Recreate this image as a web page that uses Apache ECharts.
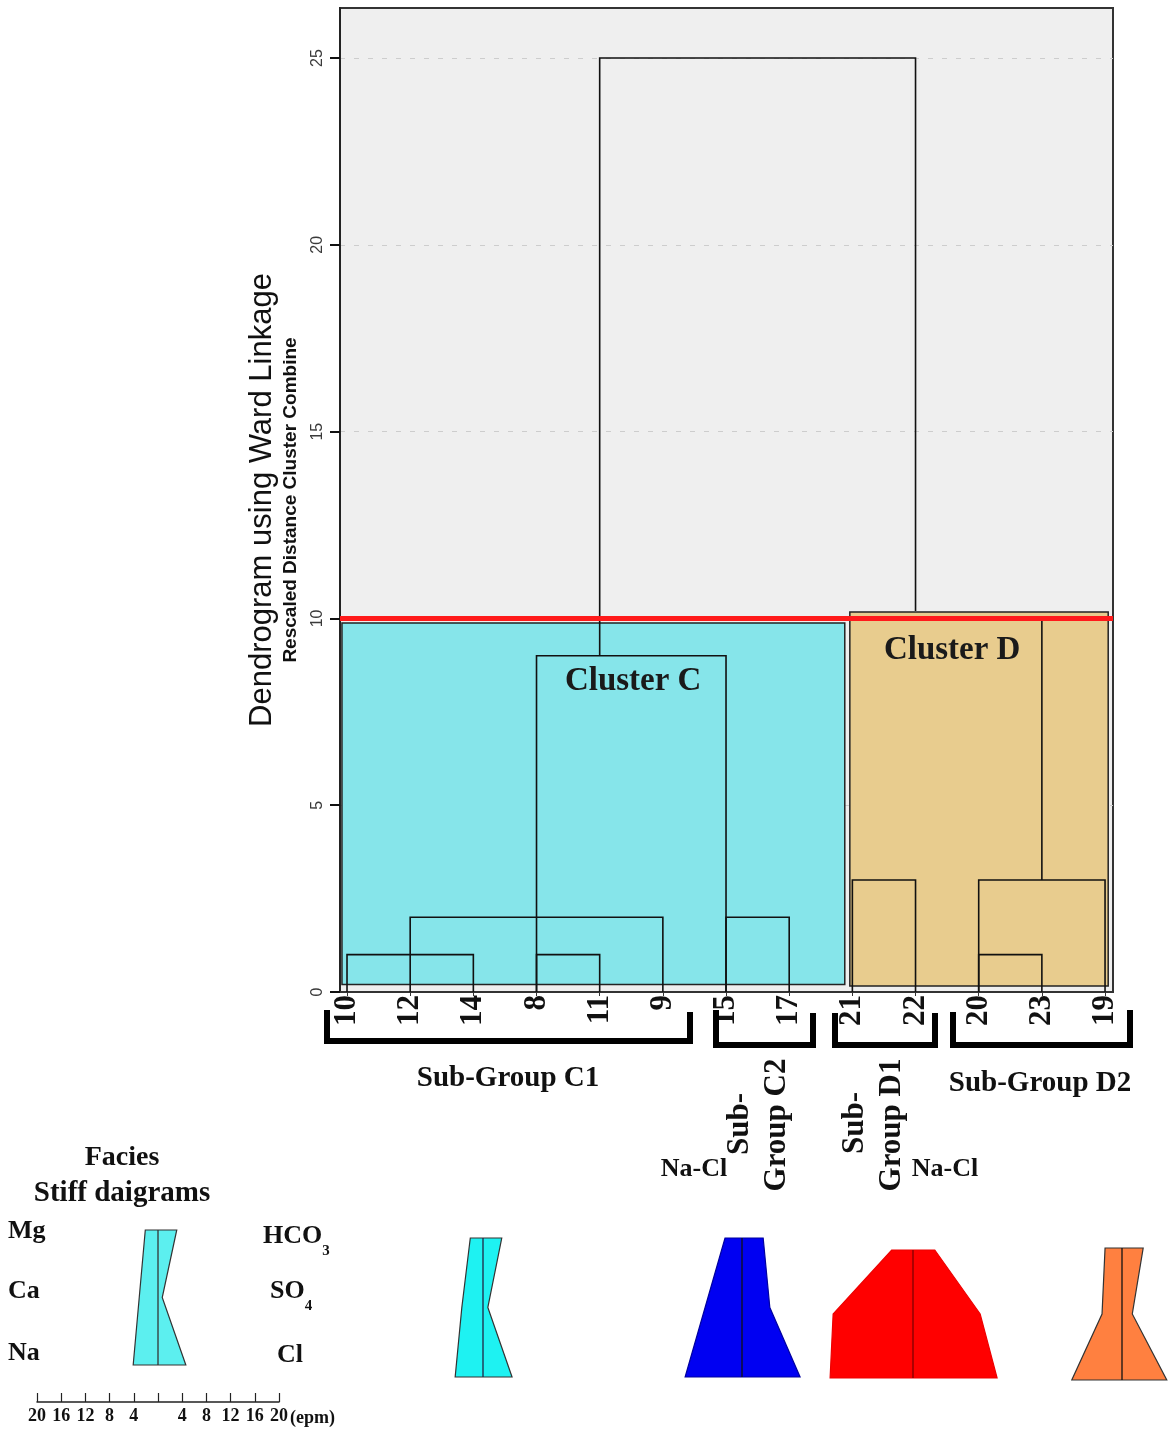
<!DOCTYPE html>
<html>
<head>
<meta charset="utf-8">
<script src="https://cdn.jsdelivr.net/npm/echarts@6/dist/echarts.min.js"></script>
<style>
  html, body { margin: 0; padding: 0; background: #ffffff; }
  #chart { width: 1168px; height: 1432px; }
</style>
</head>
<body>
<div id="chart"></div>
<script>
// Leaf order along the dendrogram axis (sample numbers)
const leaves = ['10', '12', '14', '8', '11', '9', '15', '17', '21', '22', '20', '23', '19'];

// Each link: [left anchor leaf, right anchor leaf, left leg start, right leg start, join height]
const links = [
  ['10', '14', 0, 0, 1],
  ['12', '9', 0, 0, 2],
  ['8', '11', 0, 0, 1],
  ['8', '15', 0, 0, 9],
  ['15', '17', 0, 0, 2],
  ['11', '22', 9, 10.2, 25],
  ['21', '22', 0, 0, 3],
  ['20', '19', 0, 0, 3],
  ['20', '23', 0, 0, 1],
  ['23', '23', 3, 3, 10]
];

// Phenon line used to cut the tree into clusters
const cutHeight = 10;

// Rescaled distance ticks
const distanceTicks = [0, 5, 10, 15, 20, 25];

// Stiff diagram ions (epm), rows top to bottom
const cations = ['Mg', 'Ca', 'Na'];
const anions = ['HCO3', 'SO4', 'Cl'];
const stiffLegendCations = [2.1, 3.1, 4.1];
const stiffLegendAnions = [3.1, 0.7, 4.6];
const stiffC1Cations = [2.1, 3.5, 4.6];
const stiffC1Anions = [3.1, 0.8, 4.8];
const stiffC2Cations = [2.8, 6.1, 9.4];
const stiffC2Anions = [3.5, 4.6, 9.6];
const stiffD1Cations = [3.5, 13.2, 13.7];
const stiffD1Anions = [3.6, 11.1, 13.9];
const stiffD2Cations = [2.8, 3.3, 8.3];
const stiffD2Anions = [3.5, 1.7, 7.4];

const SERIF = "'Liberation Serif', 'Times New Roman', serif";
const SANS = "'Liberation Sans', Arial, sans-serif";

const leafIndex = name => leaves.indexOf(name);

const chart = echarts.init(document.getElementById('chart'), null, { renderer: 'canvas' });

// polygon for one Stiff diagram: cations to the left, anions to the right
function stiffRenderer(fill, stroke, axisStroke) {
  return function (params, api) {
    const c = [api.value(0), api.value(1), api.value(2)];
    const a = [api.value(3), api.value(4), api.value(5)];
    const pts = [
      api.coord([-c[0], 0]), api.coord([-c[1], 1]), api.coord([-c[2], 2]),
      api.coord([a[2], 2]), api.coord([a[1], 1]), api.coord([a[0], 0])
    ];
    const top = api.coord([0, 0]);
    const bottom = api.coord([0, 2]);
    return {
      type: 'group',
      children: [
        { type: 'polygon', shape: { points: pts }, style: { fill: fill, stroke: stroke, lineWidth: 1.2 } },
        { type: 'line', shape: { x1: top[0], y1: top[1], x2: bottom[0], y2: bottom[1] },
          style: { stroke: axisStroke, lineWidth: 1.3 } }
      ]
    };
  };
}

// small diagram panels: centre x, top, height
const stiffPanels = [
  { cx: 158, top: 1230, h: 135 },
  { cx: 483, top: 1238, h: 139 },
  { cx: 742, top: 1238, h: 139 },
  { cx: 913, top: 1250, h: 128 },
  { cx: 1122, top: 1248, h: 132 }
];
const EPM_WIDTH = 242;

const grids = [
  { left: 340, top: 8, width: 773, height: 984, show: true, backgroundColor: '#efefef',
    borderColor: '#333', borderWidth: 2, outerBoundsMode: 'none', containLabel: false }
].concat(stiffPanels.map(p => ({
  left: p.cx - EPM_WIDTH / 2, top: p.top, width: EPM_WIDTH, height: p.h,
  show: false, outerBoundsMode: 'none', containLabel: false
})));

const xAxes = [{
  type: 'value', gridIndex: 0, min: -0.111, max: 12.126,
  axisLine: { show: true, onZero: false, lineStyle: { color: '#333', width: 2 } },
  axisTick: { show: true, customValues: leaves.map((_, i) => i), length: 4, lineStyle: { color: '#333', width: 1 } },
  axisLabel: {
    customValues: leaves.map((_, i) => i),
    formatter: v => leaves[Math.round(v)],
    rotate: 90, margin: 3,
    fontFamily: SERIF, fontWeight: 'bold', fontSize: 31, color: '#111'
  },
  splitLine: { show: false }
}].concat(stiffPanels.map((p, i) => ({
  type: 'value', gridIndex: i + 1, min: -20, max: 20, interval: 4,
  show: i === 0, position: 'bottom', offset: 37,
  axisLine: { show: true, onZero: false, lineStyle: { color: '#222', width: 1.5 } },
  axisTick: { show: true, inside: true, length: 9, lineStyle: { color: '#222', width: 1.2 } },
  axisLabel: {
    formatter: v => (v === 0 ? '' : String(Math.abs(v))),
    margin: 5, fontFamily: SERIF, fontWeight: 'bold', fontSize: 18, color: '#111'
  },
  splitLine: { show: false }
})));

const yAxes = [{
  type: 'value', gridIndex: 0, min: 0, max: 26.34, interval: 5,
  name: '{a|Dendrogram using Ward Linkage}\n{b|Rescaled Distance Cluster Combine}',
  nameLocation: 'middle', nameRotate: 90, nameGap: 36,
  nameTextStyle: {
    rich: {
      a: { fontFamily: SANS, fontSize: 31, color: '#111', lineHeight: 32 },
      b: { fontFamily: SANS, fontSize: 19, fontWeight: 'bold', color: '#111', lineHeight: 26 }
    }
  },
  axisLine: { show: true, onZero: false, lineStyle: { color: '#222', width: 2 } },
  axisTick: { show: true, customValues: distanceTicks, length: 10, lineStyle: { color: '#111', width: 2 } },
  axisLabel: {
    customValues: distanceTicks, rotate: 90, margin: 14,
    fontFamily: SANS, fontSize: 16, color: '#3a3a3a'
  },
  splitLine: { show: true, lineStyle: { type: [5, 9], color: '#cdcdcd', width: 1 } }
}].concat(stiffPanels.map((p, i) => ({
  type: 'value', gridIndex: i + 1, min: 0, max: 2, inverse: true, show: false
})));

// shaded cluster regions in axis units: [left, bottom, right, top], label anchor
const clusterRegions = [
  { box: [-0.08, 0.2, 7.88, 9.88], fill: '#86e5ea', label: 'Cluster C', at: [4.53, 8.32] },
  { box: [7.96, 0.16, 12.05, 10.17], fill: '#e8cc8e', label: 'Cluster D', at: [9.58, 9.15] }
];

const series = [
  {
    type: 'custom', name: 'clusters', xAxisIndex: 0, yAxisIndex: 0, z: 1, clip: false, silent: true,
    data: clusterRegions.map(r => r.box.concat(r.at)),
    renderItem: function (params, api) {
      const r = clusterRegions[params.dataIndex];
      const p0 = api.coord([api.value(0), api.value(3)]);
      const p1 = api.coord([api.value(2), api.value(1)]);
      const t = api.coord([api.value(4), api.value(5)]);
      return {
        type: 'group',
        children: [
          { type: 'rect', shape: { x: p0[0], y: p0[1], width: p1[0] - p0[0], height: p1[1] - p0[1] },
            style: { fill: r.fill, stroke: '#222', lineWidth: 1.5 } },
          { type: 'text', x: t[0], y: t[1], z2: 5,
            style: { text: r.label, font: 'bold 33px ' + SERIF, fill: '#1a1a1a',
              align: 'center', verticalAlign: 'middle', textAlign: 'center', textVerticalAlign: 'middle' } }
        ]
      };
    }
  },
  {
    type: 'custom', name: 'dendrogram', xAxisIndex: 0, yAxisIndex: 0, z: 2, clip: false, silent: true,
    data: links.map(l => [leafIndex(l[0]), l[2], leafIndex(l[1]), l[3], l[4]]),
    encode: { x: [0, 2], y: [1, 3, 4] },
    renderItem: function (params, api) {
      const xl = api.value(0), yl = api.value(1), xr = api.value(2), yr = api.value(3), h = api.value(4);
      const pts = [api.coord([xl, yl]), api.coord([xl, h]), api.coord([xr, h]), api.coord([xr, yr])];
      return { type: 'polyline', shape: { points: pts }, style: { stroke: '#111', lineWidth: 1.6, fill: null } };
    }
  },
  {
    type: 'line', name: 'cut', xAxisIndex: 0, yAxisIndex: 0, z: 5, data: [], silent: true,
    markLine: {
      silent: true, symbol: ['none', 'none'], label: { show: false },
      lineStyle: { color: '#ff1a1a', width: 5, type: 'solid', opacity: 1 },
      data: [{ yAxis: cutHeight }]
    }
  }
];

const stiffSets = [
  { cat: stiffLegendCations, an: stiffLegendAnions, fill: '#5cefef', stroke: '#333', axis: '#333' },
  { cat: stiffC1Cations, an: stiffC1Anions, fill: '#1ef2f2', stroke: '#333', axis: '#224' },
  { cat: stiffC2Cations, an: stiffC2Anions, fill: '#0000f2', stroke: '#0000a0', axis: '#111' },
  { cat: stiffD1Cations, an: stiffD1Anions, fill: '#ff0000', stroke: '#ee0000', axis: '#800000' },
  { cat: stiffD2Cations, an: stiffD2Anions, fill: '#ff8040', stroke: '#333', axis: '#111' }
];
stiffSets.forEach((s, i) => {
  series.push({
    type: 'custom', name: 'stiff' + i, xAxisIndex: i + 1, yAxisIndex: i + 1, clip: false, silent: true, z: 2,
    data: [s.cat.concat(s.an)],
    renderItem: stiffRenderer(s.fill, s.stroke, s.axis)
  });
});

function txt(text, x, y, size, opts) {
  opts = opts || {};
  return {
    type: 'text', x: x, y: y, rotation: opts.rotation || 0, z: 10,
    style: {
      text: text, font: 'bold ' + size + 'px ' + SERIF, fill: '#111',
      align: opts.align || 'center', verticalAlign: 'middle',
      textAlign: opts.align || 'center', textVerticalAlign: 'middle',
      rich: opts.rich
    }
  };
}
function bracket(points) {
  return { type: 'polyline', z: 10, shape: { points: points },
    style: { stroke: '#000', lineWidth: 6, fill: null, lineJoin: 'miter', lineCap: 'square' } };
}
const ionRich = {
  m: { font: 'bold 26px ' + SERIF, fill: '#111', padding: [0, 0, 9, 0] },
  s: { font: 'bold 15px ' + SERIF, fill: '#111', verticalAlign: 'bottom' }
};

const graphics = [
  bracket([[327, 1013], [327, 1041], [690, 1041], [690, 1015]]),
  bracket([[716, 1013], [716, 1045], [813, 1045], [813, 1016]]),
  bracket([[835, 1016], [835, 1045], [935, 1045], [935, 1016]]),
  bracket([[953, 1015], [953, 1045], [1130, 1045], [1130, 1013]]),
  txt('Sub-Group C1', 508, 1079, 29),
  txt('Sub-Group D2', 1040, 1084, 29),
  txt('Sub-', 740, 1124, 31, { rotation: Math.PI / 2 }),
  txt('Group C2', 777, 1125, 31, { rotation: Math.PI / 2 }),
  txt('Sub-', 855, 1123, 31, { rotation: Math.PI / 2 }),
  txt('Group D1', 892, 1125, 31, { rotation: Math.PI / 2 }),
  txt('Na-Cl', 694, 1169, 26),
  txt('Na-Cl', 945, 1169, 26),
  txt('Facies', 122, 1158, 28),
  txt('Stiff daigrams', 122, 1194, 29),
  txt(cations[0], 8, 1231, 26, { align: 'left' }),
  txt(cations[1], 8, 1291, 26, { align: 'left' }),
  txt(cations[2], 8, 1353, 26, { align: 'left' }),
  txt('{m|HCO}{s|3}', 263, 1241, 26, { align: 'left', rich: ionRich }),
  txt('{m|SO}{s|4}', 270, 1296, 26, { align: 'left', rich: ionRich }),
  txt(anions[2], 277, 1355, 26, { align: 'left' }),
  txt('(epm)', 290, 1418, 18, { align: 'left' })
];

chart.setOption({
  animation: false,
  backgroundColor: '#ffffff',
  grid: grids,
  xAxis: xAxes,
  yAxis: yAxes,
  series: series,
  graphic: graphics
});
</script>
</body>
</html>
